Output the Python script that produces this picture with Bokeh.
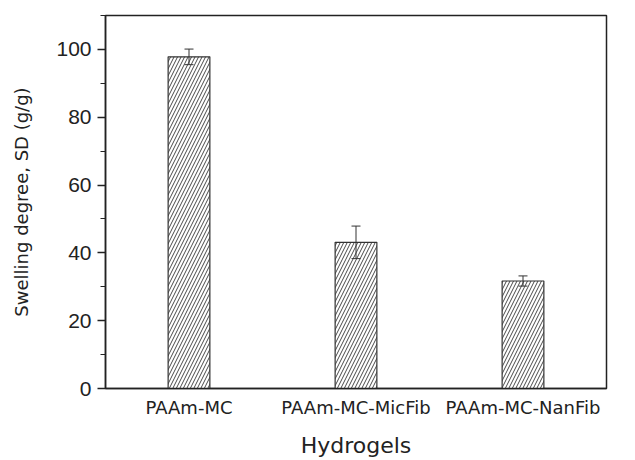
from bokeh.plotting import figure
from bokeh.models import FixedTicker, Range1d, ColumnDataSource, Whisker, TeeHead
from bokeh.embed import file_html
from bokeh.resources import INLINE

categories = ["PAAm-MC", "PAAm-MC-MicFib", "PAAm-MC-NanFib"]
swelling = [97.8, 43.1, 31.7]
errors = [2.3, 4.8, 1.5]

xs = [i + 1 for i in range(len(categories))]
src = ColumnDataSource(dict(
    x=xs, top=swelling,
    upper=[v + e for v, e in zip(swelling, errors)],
    lower=[v - e for v, e in zip(swelling, errors)],
))

p = figure(width=635, height=460, output_backend="svg", toolbar_location=None,
           x_range=Range1d(0.5, 3.5), y_range=Range1d(0, 110))
p.min_border_left = 105
p.min_border_right = 29
p.min_border_top = 15
p.min_border_bottom = 71
p.background_fill_color = "white"
p.border_fill_color = "white"
p.grid.visible = False
p.outline_line_color = "#222222"
p.outline_line_width = 1.5

p.vbar(x="x", top="top", width=0.25, source=src, fill_color="white",
       line_color="#333333", line_width=1.2,
       hatch_pattern="right_diagonal_line", hatch_color="#333333",
       hatch_scale=7, hatch_weight=0.9)

w = Whisker(base="x", upper="upper", lower="lower", source=src,
            line_color="#333333", line_width=1, level="overlay",
            upper_head=TeeHead(size=9, line_color="#333333", line_width=1),
            lower_head=TeeHead(size=9, line_color="#333333", line_width=1))
p.add_layout(w)

font = "Liberation Sans"
p.yaxis.ticker = FixedTicker(ticks=[0, 20, 40, 60, 80, 100],
                             minor_ticks=[10, 30, 50, 70, 90, 110])
p.yaxis.major_tick_out = 8
p.yaxis.major_tick_in = 0
p.yaxis.minor_tick_out = 5
p.yaxis.minor_tick_in = 0
p.yaxis.axis_line_width = 1.5
p.yaxis.axis_line_color = "#222222"
p.yaxis.major_tick_line_color = "#222222"
p.yaxis.minor_tick_line_color = "#222222"
p.yaxis.major_tick_line_width = 1.5
p.yaxis.major_label_text_font = font
p.yaxis.major_label_text_font_size = "21px"
p.yaxis.major_label_text_color = "#222222"
p.yaxis.major_label_standoff = 6
p.yaxis.axis_label = "Swelling degree, SD (g/g)"
p.yaxis.axis_label_text_font = "DejaVu Sans"
p.yaxis.axis_label_text_font_size = "18px"
p.yaxis.axis_label_text_font_style = "normal"
p.yaxis.axis_label_text_color = "#222222"
p.yaxis.axis_label_standoff = 21

p.xaxis.ticker = FixedTicker(ticks=xs)
p.xaxis.major_label_overrides = {x: c for x, c in zip(xs, categories)}
p.xaxis.major_tick_out = 0
p.xaxis.major_tick_in = 0
p.xaxis.minor_tick_out = 0
p.xaxis.minor_tick_in = 0
p.xaxis.axis_line_width = 1.5
p.xaxis.axis_line_color = "#222222"
p.xaxis.major_label_text_font = "DejaVu Sans"
p.xaxis.major_label_text_font_size = "18px"
p.xaxis.major_label_text_color = "#222222"
p.xaxis.major_label_standoff = 8
p.xaxis.axis_label = "Hydrogels"
p.xaxis.axis_label_text_font = "DejaVu Sans"
p.xaxis.axis_label_text_font_size = "22px"
p.xaxis.axis_label_text_font_style = "normal"
p.xaxis.axis_label_text_color = "#222222"
p.xaxis.axis_label_standoff = 12

open("out.html", "w").write(file_html(p, INLINE))
